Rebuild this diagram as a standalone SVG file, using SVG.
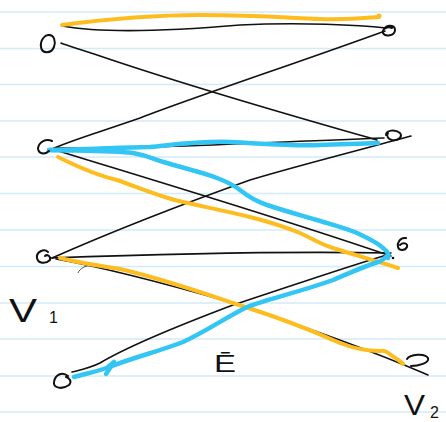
<svg xmlns="http://www.w3.org/2000/svg" width="446" height="422" viewBox="0 0 446 422">
<style>
.rule{stroke:#d3eaf7;stroke-width:1.5}
.nd{fill:none;stroke:#111;stroke-width:2;stroke-linecap:round;stroke-linejoin:round}
.bk{fill:none;stroke:#111;stroke-width:1.6;stroke-linecap:round}
.or{fill:none;stroke:#fdbd1e;stroke-width:4;stroke-linecap:round;stroke-linejoin:round}
.bl{fill:none;stroke:#33c6f4;stroke-width:4.5;stroke-linecap:round;stroke-linejoin:round}
.lb{font-family:"Liberation Sans",Arial,sans-serif;fill:#111}
</style>
<rect width="446" height="422" fill="#ffffff"/>
<g id="paper">
<line class="rule" x1="0" y1="12" x2="446" y2="12"/>
<line class="rule" x1="0" y1="48.5" x2="446" y2="48.5"/>
<line class="rule" x1="0" y1="84.5" x2="446" y2="84.5"/>
<line class="rule" x1="0" y1="121" x2="446" y2="121"/>
<line class="rule" x1="0" y1="157" x2="446" y2="157"/>
<line class="rule" x1="0" y1="193.5" x2="446" y2="193.5"/>
<line class="rule" x1="0" y1="230" x2="446" y2="230"/>
<line class="rule" x1="0" y1="266.5" x2="446" y2="266.5"/>
<line class="rule" x1="0" y1="303" x2="446" y2="303"/>
<line class="rule" x1="0" y1="339" x2="446" y2="339"/>
<line class="rule" x1="0" y1="376" x2="446" y2="376"/>
<line class="rule" x1="0" y1="412" x2="446" y2="412"/>
</g>
<g id="connectors">
<path class="bk" d="M62,26 C100,33 170,31 240,25 C300,22 360,25 386,28"/>
<path class="bk" d="M61,43 C68,46 80,49 100,56 C200,90 300,118 377,140"/>
<path class="bk" d="M385,31 C300,62 200,95 140,118 C100,132 72,140 52,149"/>
<path class="bk" d="M55,148 C150,149 250,143 384,138"/>
<path class="bk" d="M55,150 C170,185 280,218 391,256"/>
<path class="bk" d="M411,136 C360,150 300,165 250,180 C180,205 120,228 52,258"/>
<path class="bk" d="M50,258 C160,254 280,251 391,253"/>
<path class="bk" d="M56,259 C90,265 160,282 233,303 C300,325 370,350 428,375"/>
<path class="bk" d="M390,254 C330,272 280,290 233,305 C180,325 130,345 100,363 C90,368 80,370 72,372"/>
<path d="M78,273 C80,268 85,266 92,265" fill="none" stroke="#555" stroke-width="1"/>
<path class="or" d="M62,25 C100,20 150,15 200,15 C260,15 290,18 320,19 C350,20 365,18 379,17"/>
<circle cx="379" cy="16" r="2.5" fill="#fdbd1e"/>
<path class="or" d="M58,157 C80,168 100,176 117,180 C140,188 160,197 183,202 C210,208 230,212 250,217 C270,222 285,227 300,233 C315,240 320,244 333,248 C355,255 380,262 398,268"/>
<path class="or" d="M60,258 C80,263 100,266 120,269 C160,278 200,292 233,303 C270,315 300,325 340,343 C355,349 370,351 380,351 C386,350 388,353 394,357 C398,360 401,362 403,364"/>
<path class="bl" d="M49,150 C100,149 130,147 150,147 C180,144 200,141 230,142 C270,144 290,146 320,145 C345,144 360,144 378,143"/>
<path class="bl" d="M49,150 C90,151 115,151 133,153 C150,156 155,160 167,163 C190,170 205,173 217,178 C230,183 235,186 240,190 C250,198 258,202 267,205 C285,211 300,215 317,220 C333,225 345,228 357,233 C370,239 378,243 383,248 C387,251 390,254 388,258"/>
<path class="bl" d="M388,255 C384,259 382,261 378,262 C360,268 345,275 333,280 C300,292 270,298 247,307 C225,318 205,332 183,342 C160,351 135,357 112,366 C100,371 88,373 74,377"/>
<path class="bl" d="M108,367 L114,362 L106,374" stroke-width="3"/>
</g>
<g id="L1"><path class="nd" d="M52,36 C45,32 40,41 41,47 C42,54 51,54 54,47 C56,41 54,35 49,35"/></g>
<g id="R1"><path class="nd" d="M384,29 C387,24 395,25 395,30 C395,36 385,37 383,33 C382,29 387,26 392,28"/></g>
<g id="L2"><path class="nd" d="M52,141 C46,138 39,142 38,148 C38,154 45,155 49,151"/></g>
<g id="R2"><path class="nd" d="M386,135 C386,130 395,129 400,133 C403,137 398,141 392,140 C388,139 386,136 388,133"/></g>
<g id="L3"><path class="nd" d="M48,252 C44,248 36,252 37,258 C38,264 46,264 50,260 C51,256 47,254 45,256"/></g>
<g id="R3"><path class="nd" d="M406,238 C400,237 397,243 398,247 C399,251 405,251 407,247 C408,243 403,242 400,245"/><circle cx="393" cy="258" r="1.3" fill="#111"/></g>
<g id="L4"><path class="nd" d="M68,376 C62,371 55,375 54,382 C53,388 62,390 69,385 C72,382 70,378 66,377"/></g>
<g id="R4"><path class="nd" d="M407,359 C410,354 425,353 428,358 C430,363 418,366 411,366"/></g>
<g id="labels">
<text class="lb" x="9" y="322" font-size="33" textLength="28" lengthAdjust="spacingAndGlyphs">V</text>
<text class="lb" x="49" y="323" font-size="16">1</text>
<text class="lb" x="404" y="415" font-size="30" textLength="21" lengthAdjust="spacingAndGlyphs">V</text>
<text class="lb" x="430" y="418" font-size="16">2</text>
<text class="lb" x="214" y="372" font-size="24" textLength="22" lengthAdjust="spacingAndGlyphs">Ē</text>
</g>
</svg>
